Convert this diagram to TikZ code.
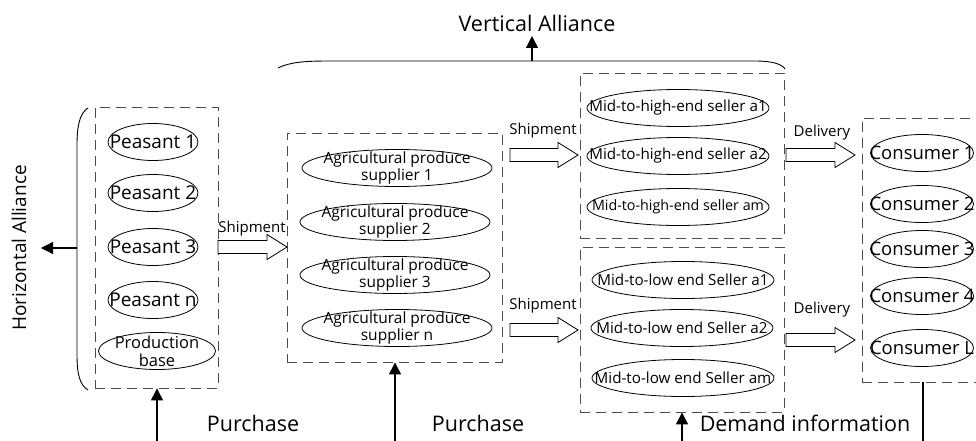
\documentclass[tikz,border=0pt]{standalone}
\usepackage{fontspec}
\setmainfont{Open Sans}
\usetikzlibrary{arrows.meta,shapes.geometric}
\begin{document}
\begin{tikzpicture}[x=1pt,y=-1pt,
  ell/.style={draw,ellipse,inner sep=0pt,line width=0.8pt},
  txt/.style={inner sep=0pt,align=center},
  dbox/.style={draw=black!70,dashed,dash pattern=on 10pt off 6pt,line width=0.9pt,inner sep=0pt},
  lbl/.style={font=\fontsize{15}{15}\selectfont,inner sep=0pt},
  big/.style={font=\fontsize{21.5}{21.5}\selectfont,inner sep=0pt},
  conn/.style={line width=1.3pt,-{Triangle[width=12pt,length=12pt]}},
  barrow/.style={draw,line width=0.8pt,fill=white}]
\useasboundingbox (0,0) rectangle (976,441);
% dashed boxes
\node[dbox,minimum width=123,minimum height=281] (bP) at (156.5,247.5) {};
\node[dbox,minimum width=215,minimum height=229] (bS) at (394.5,247.5) {};
\node[dbox,minimum width=204,minimum height=165] (bH) at (682,155.5) {};
\node[dbox,minimum width=204,minimum height=165] (bL) at (682,329.5) {};
\node[dbox,minimum width=130,minimum height=264] (bC) at (927,250) {};
% peasants
\begin{scope}[every node/.style={ell,minimum width=90,minimum height=37}]
\node (p1) at (153,142) {};
\node (p2) at (153,193) {};
\node (p3) at (153,247) {};
\node (p4) at (153,300) {};
\end{scope}
\begin{scope}[every node/.style={txt,font=\fontsize{19}{19}\selectfont}]
\node at (p1) {Peasant 1};
\node at (p2) {Peasant 2};
\node at (p3) {Peasant 3};
\node at (p4) {Peasant n};
\end{scope}
\node[ell,minimum width=117,minimum height=37] (pb) at (157,351) {};
\node[txt,font=\fontsize{16.5}{18}\selectfont] at (pb) {Production\\base};
% suppliers
\begin{scope}[every node/.style={ell,minimum width=190,minimum height=37}]
\node (s1) at (397,168) {};
\node (s2) at (395,222) {};
\node (s3) at (395,275) {};
\node (s4) at (397,328) {};
\end{scope}
\begin{scope}[every node/.style={txt,font=\fontsize{15.5}{17}\selectfont}]
\node at (s1) {Agricultural produce\\supplier 1};
\node at (s2) {Agricultural produce\\supplier 2};
\node at (s3) {Agricultural produce\\supplier 3};
\node at (s4) {Agricultural produce\\supplier n};
\end{scope}
% sellers
\begin{scope}[every node/.style={ell,minimum width=182,minimum height=37}]
\node (h1) at (678,108) {};
\node (h2) at (678,156) {};
\node (h3) at (678,207) {};
\node (l1) at (683,280) {};
\node (l2) at (682,328) {};
\node (l3) at (683,378) {};
\end{scope}
\begin{scope}[every node/.style={txt,font=\fontsize{15.2}{16}\selectfont}]
\node at (h1) {Mid-to-high-end seller a1};
\node at (h2) {Mid-to-high-end seller a2};
\node[font=\fontsize{14.3}{15}\selectfont] at (h3) {Mid-to-high-end seller am};
\node at (l1) {Mid-to-low end Seller a1};
\node at (l2) {Mid-to-low end Seller a2};
\node at (l3) {Mid-to-low end Seller am};
\end{scope}
% consumers
\begin{scope}[every node/.style={ell,minimum width=103,minimum height=37}]
\node (c1) at (922,153) {};
\node (c2) at (922,204) {};
\node (c3) at (922,249) {};
\node (c4) at (922,296) {};
\node (c5) at (922,348) {};
\end{scope}
\begin{scope}[every node/.style={txt,font=\fontsize{18.5}{18.5}\selectfont}]
\node at (c1) {Consumer 1};
\node at (c2) {Consumer 2};
\node at (c3) {Consumer 3};
\node at (c4) {Consumer 4};
\node at (c5) {Consumer L};
\end{scope}
% block arrows
\newcommand{\blockarr}[3]{%
  \draw[barrow] (#1,#3-6.5) -- (#2-20,#3-6.5) -- (#2-20,#3-12.5) -- (#2,#3) -- (#2-20,#3+12.5) -- (#2-20,#3+6.5) -- (#1,#3+6.5) -- cycle;}
\blockarr{218}{287}{247}
\blockarr{510}{578}{155}
\blockarr{510}{578}{330}
\blockarr{786}{855}{155}
\blockarr{786}{855}{340}
\node[lbl] (sh1) at (252,229) {Shipment};
\node[lbl] (sh2) at (543,131) {Shipment};
\node[lbl] (sh3) at (543,306) {Shipment};
\node[lbl] (dl1) at (822,133) {Delivery};
\node[lbl] (dl2) at (822,310) {Delivery};
% vertical alliance brace
\draw[line width=0.9pt] (278,68) .. controls (290,62) and (305,61) .. (330,61) -- (755,61) .. controls (772,61) and (782,64) .. (785,69);
\coordinate (vb) at (532,61);
\node[big] (va) at (537,23) {Vertical Alliance};
\draw[conn] (vb) -- (532,36);
% horizontal alliance brace
\draw[line width=0.9pt] (88,108) .. controls (80,113) and (77,125) .. (77,145) -- (77,355) .. controls (77,375) and (80,385) .. (88,390);
\coordinate (hb) at (77,248);
\node[big,font=\fontsize{19}{19}\selectfont,rotate=90] (ha) at (19,248) {Horizontal Alliance};
\draw[conn] (hb) -- (41,248);
% bottom
\coordinate (q1) at (157,445);
\coordinate (q2) at (395,445);
\coordinate (q3) at (682,445);
\draw[conn] (q1) -- (bP.south -| q1);
\draw[conn] (q2) -- (bS.south -| q2);
\draw[conn] (q3) -- (bL.south -| q3);
\draw[line width=1.3pt] (bC.south -| 923,0) -- (923,445);
\node[big] (pu1) at (253,423) {Purchase};
\node[big] (pu2) at (478,423) {Purchase};
\node[big] (di) at (805,423) {Demand information};
\end{tikzpicture}
\end{document}
